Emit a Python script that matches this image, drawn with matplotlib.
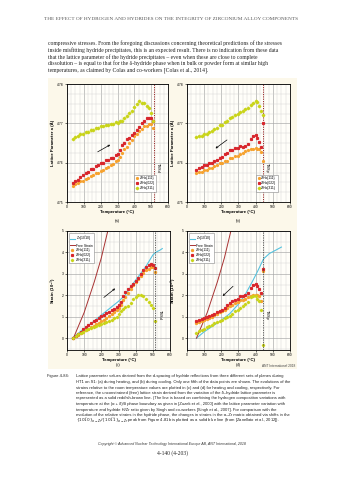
import numpy as np
import matplotlib
matplotlib.use("Agg")
import matplotlib.pyplot as plt
from matplotlib.patches import Rectangle
from matplotlib.ticker import MultipleLocator

plt.rcParams['font.family'] = ['Liberation Sans', 'DejaVu Sans']
plt.rcParams['mathtext.fontset'] = 'dejavusans'

# ---- data ----
heat_T = [35, 50, 65, 80, 95, 110, 125, 140, 155, 170, 185, 200, 215, 230, 245, 260, 275,
          290, 305, 315, 325, 340, 355, 370, 385, 400, 415, 430, 445, 460, 475, 490, 500, 510]
cool_T = [440, 430, 420, 410, 400, 385, 370, 355, 340, 325, 310, 295, 280, 265, 250, 235, 220,
          205, 190, 175, 160, 145, 130, 115, 100, 85, 70, 55]

# (a) lattice parameter during heating
a111_heat = [4.7541, 4.7546, 4.7548, 4.7553, 4.7554, 4.7559, 4.7561, 4.7566, 4.7568, 4.7573, 4.7574,
             4.7580, 4.7581, 4.7587, 4.7589, 4.7595, 4.7597, 4.7604, 4.7607, 4.7615, 4.7624, 4.7634,
             4.7640, 4.7651, 4.7658, 4.7667, 4.7672, 4.7681, 4.7685, 4.7692, 4.7694, 4.7699, 4.7698, 4.7688]
a022_heat = [4.7549, 4.7554, 4.7557, 4.7564, 4.7568, 4.7575, 4.7577, 4.7583, 4.7585, 4.7591, 4.7593,
             4.7599, 4.7600, 4.7606, 4.7607, 4.7612, 4.7613, 4.7619, 4.7621, 4.7631, 4.7644, 4.7651,
             4.7659, 4.7663, 4.7671, 4.7675, 4.7684, 4.7690, 4.7700, 4.7705, 4.7713, 4.7713, 4.7713, 4.7705]
a311_heat = [4.7660, 4.7666, 4.7667, 4.7672, 4.7673, 4.7678, 4.7679, 4.7684, 4.7684, 4.7688, 4.7688,
             4.7692, 4.7692, 4.7696, 4.7696, 4.7699, 4.7699, 4.7703, 4.7702, 4.7705, 4.7707, 4.7714,
             4.7718, 4.7727, 4.7732, 4.7742, 4.7748, 4.7756, 4.7752, 4.7751, 4.7744, 4.7739, 4.7727, 4.7705]

# (b) lattice parameter during cooling
a111_cool = [4.7603, 4.7628, 4.7634, 4.7635, 4.7638, 4.7635, 4.7635, 4.7631, 4.7630, 4.7625, 4.7623,
             4.7618, 4.7617, 4.7612, 4.7611, 4.7605, 4.7604, 4.7599, 4.7598, 4.7593, 4.7592, 4.7587,
             4.7586, 4.7581, 4.7581, 4.7577, 4.7576, 4.7573]
a022_cool = [4.7700, 4.7640, 4.7653, 4.7662, 4.7671, 4.7667, 4.7661, 4.7647, 4.7643, 4.7639, 4.7642,
             4.7637, 4.7637, 4.7633, 4.7631, 4.7624, 4.7621, 4.7614, 4.7613, 4.7607, 4.7605, 4.7599,
             4.7598, 4.7593, 4.7593, 4.7588, 4.7587, 4.7582]
a311_cool = [4.7722, 4.7731, 4.7745, 4.7753, 4.7757, 4.7751, 4.7747, 4.7740, 4.7737, 4.7731, 4.7729,
             4.7723, 4.7721, 4.7715, 4.7713, 4.7707, 4.7704, 4.7697, 4.7695, 4.7688, 4.7686, 4.7680,
             4.7678, 4.7674, 4.7673, 4.7669, 4.7668, 4.7664]

# (c) strain during heating (10^-3)
s111_heat = [0.0, 0.08, 0.17, 0.23, 0.29, 0.36, 0.44, 0.50, 0.59, 0.65, 0.71, 0.80, 0.86, 0.95, 1.03,
             1.12, 1.20, 1.30, 1.41, 1.54, 1.77, 1.93, 2.10, 2.29, 2.48, 2.63, 2.78, 2.92, 3.05, 3.16,
             3.24, 3.30, 3.32, 3.09]
s022_heat = [0.0, 0.08, 0.19, 0.29, 0.42, 0.53, 0.61, 0.69, 0.78, 0.86, 0.95, 1.03, 1.09, 1.18, 1.24,
             1.30, 1.37, 1.45, 1.54, 1.70, 1.98, 2.17, 2.29, 2.42, 2.55, 2.68, 2.82, 2.99, 3.16, 3.30,
             3.43, 3.47, 3.43, 3.28]
s311_heat = [0.0, 0.12, 0.18, 0.24, 0.30, 0.36, 0.42, 0.47, 0.52, 0.57, 0.62, 0.66, 0.70, 0.75, 0.80,
             0.86, 0.93, 1.00, 1.15, 1.28, 1.36, 1.44, 1.52, 1.66, 1.82, 1.93, 2.00, 2.02, 1.96, 1.82,
             1.70, 1.55, 1.40, 0.78]
zr_heat_T = [30, 100, 150, 200, 250, 300, 340, 380, 420, 460, 500, 520, 540, 555]
zr_heat_s = [0.0, 0.45, 0.75, 1.08, 1.40, 1.72, 2.02, 2.50, 2.92, 3.35, 3.88, 4.02, 4.10, 4.18]
free_heat_T = [37, 100, 159, 200, 246]
free_heat_s = [0.0, 1.2, 2.63, 3.75, 5.28]

# (d) strain during cooling (10^-3)
s111_cool = [3.15, 1.75, 1.95, 2.00, 2.02, 2.00, 1.95, 1.90, 1.85, 1.80, 1.78, 1.70, 1.62, 1.55, 1.48,
             1.40, 1.33, 1.28, 1.20, 1.13, 1.07, 1.00, 0.95, 0.90, 0.85, 0.80, 0.75, 0.70]
s022_cool = [3.22, 2.10, 2.30, 2.45, 2.52, 2.50, 2.35, 2.10, 2.00, 1.96, 1.95, 1.85, 1.80, 1.75, 1.65,
             1.55, 1.42, 1.32, 1.25, 1.20, 1.15, 1.10, 1.03, 0.98, 0.92, 0.88, 0.85, 0.80]
s311_cool = [-0.33, 1.30, 1.75, 1.85, 1.95, 1.95, 1.90, 1.70, 1.60, 1.50, 1.40, 1.30, 1.25, 1.15, 1.05,
             0.98, 0.92, 0.87, 0.82, 0.76, 0.70, 0.62, 0.55, 0.50, 0.45, 0.40, 0.32, 0.25]
zr_cool_T = [55, 100, 194, 250, 301, 340, 378, 410, 446, 480, 520, 550]
zr_cool_s = [0.0, 0.30, 0.80, 1.15, 1.60, 2.05, 2.60, 3.10, 3.70, 3.95, 4.12, 4.25]
free_cool_T = [55, 118, 177, 218, 264]
free_cool_s = [0.0, 1.2, 2.63, 3.75, 5.28]

tss_heat = 515
tss_cool = 440

# ---- page text ----
header = "THE EFFECT OF HYDROGEN AND HYDRIDES ON THE INTEGRITY OF ZIRCONIUM ALLOY COMPONENTS"
para = [
    "compressive stresses. From the foregoing discussions concerning theoretical predictions of the stresses",
    "inside misfitting hydride precipitates, this is an expected result. There is no indication from these data",
    "that the lattice parameter of the hydride precipitates \u2013 even when these are close to complete",
    "dissolution \u2013 is equal to that for the \u03b4-hydride phase when in bulk or powder form at similar high",
    "temperatures, as claimed by Colas and co-workers [Colas et al., 2014].",
]
caption = [
    "Lattice parameter values derived from the d-spacing of hydride reflections from three different sets of planes during",
    "HT1 on S1: (a) during heating, and (b) during cooling. Only one fifth of the data points are shown. The evolutions of the",
    "strains relative to the room temperature values are plotted in (c) and (d) for heating and cooling, respectively. For",
    "reference, the unconstrained (free) lattice strain derived from the variation of the \u03b4\u2013hydride lattice parameter is",
    "represented as a solid reddish-brown line. (The line is based on combining the hydrogen composition variations with",
    "temperature at the (\u03b1 + \u03b4)/\u03b4 phase boundary as given in [Zuzek et al., 2000] with the lattice parameter variation with",
    "temperature and hydride H/Zr ratio given by Singh and co-workers [Singh et al., 2007]. For comparison with the",
    "evolution of the relative strains in the hydride phase, the changes in strains in the \u03b1\u2013Zr matrix obtained via shifts in the",
    r"$\{10\bar{1}0\}_{\alpha-Zr}/\{10\bar{1}\bar{1}\}_{\alpha-Zr}$ peak from Figure 4-81b is plotted as a solid blue line (from [Zanellato et al., 2012]).",
]

W, H = 343, 480
fig = plt.figure(figsize=(W / 100, H / 100), dpi=100)
fig.patch.set_facecolor('white')

def fx(px):
    return px / W

def fy(py):
    return 1 - py / H

fig.text(fx(171.5), fy(19), header, ha='center', va='center', fontsize=3.75,
         family='Liberation Serif', color='#555555')
for i, line in enumerate(para):
    fig.text(fx(48), fy(43.5 + i * 6.6), line, ha='left', va='center', fontsize=4.05,
             family='Liberation Serif', color='#222222')

fig.patches.append(Rectangle((fx(48), fy(369)), (297 - 48) / W, (369 - 78) / H,
                             transform=fig.transFigure, facecolor='#fcf8ea', edgecolor='none', zorder=-5))

c111, c022, c311 = '#f6a22e', '#d8262c', '#c9d419'
c_zr, c_free = '#56c3df', '#a83232'

def style(ax, lattice):
    ax.set_facecolor('#fffef9')
    ax.set_xlim(0, 600)
    ax.xaxis.set_major_locator(MultipleLocator(100))
    ax.xaxis.set_minor_locator(MultipleLocator(25))
    if lattice:
        ax.set_ylim(4.75, 4.78)
        ax.yaxis.set_major_locator(MultipleLocator(0.01))
        ax.yaxis.set_minor_locator(MultipleLocator(0.0025))
    else:
        ax.set_ylim(-0.55, 5)
        ax.yaxis.set_major_locator(MultipleLocator(1))
        ax.yaxis.set_minor_locator(MultipleLocator(0.5))
    ax.grid(which='major', color='#a5a5a5', lw=0.45)
    ax.grid(which='minor', color='#d2d2d2', lw=0.3)
    ax.set_axisbelow(True)
    ax.tick_params(which='both', labelsize=2.4, length=1.2, width=0.4, pad=1)
    ax.tick_params(which='minor', length=0)
    for s in ax.spines.values():
        s.set_linewidth(0.6)
    ax.set_xlabel('Temperature (\u00b0C)', fontsize=3.1, fontweight='bold', labelpad=1)
    if lattice:
        ax.set_ylabel('Lattice Parameter a (\u00c5)', fontsize=3.1, fontweight='bold', labelpad=2)
    else:
        ax.set_ylabel('Strain (10$^{-3}$)', fontsize=3.1, fontweight='bold', labelpad=2)

def lattice_panel(ax, T, y111, y022, y311, tss, tss_lab, arrow):
    style(ax, True)
    ax.set_yticks([4.75, 4.76, 4.77, 4.78])
    ax.set_yticklabels(['4.75', '4.76', '4.77', '4.78'])
    kw = dict(ms=1.3, lw=0, elinewidth=0.3, capsize=0)
    ax.errorbar(T, y111, yerr=0.0003, fmt='o', color=c111, ecolor='#f8c27a', label='ZrHx{111}', **kw)
    ax.errorbar(T, y022, yerr=0.0003, fmt='s', color=c022, ecolor='#ec8c8c', label='ZrHx{022}', **kw)
    ax.errorbar(T, y311, yerr=0.0003, fmt='D', color=c311, ecolor='#dde47a', label='ZrHx{311}', **kw)
    ax.axvline(tss, color='#9a2a2a', ls=(0, (1.2, 1.2)), lw=0.7)
    ax.text(tss + 12, 4.7588, tss_lab, rotation=-90, fontsize=2.8, ha='left', va='center')
    ax.annotate('', xy=arrow[1], xytext=arrow[0],
                arrowprops=dict(arrowstyle='->', lw=0.5, color='black', mutation_scale=3))
    leg = ax.legend(loc='lower right', bbox_to_anchor=(0.9, 0.07), fontsize=2.4, frameon=True,
                    handletextpad=0.3, borderpad=0.5, labelspacing=0.3, handlelength=0.8,
                    fancybox=False, framealpha=1, edgecolor='#888888')
    leg.get_frame().set_linewidth(0.4)

def strain_panel(ax, T, y111, y022, y311, zrT, zrs, frT, frs, tss, tss_lab, arrow):
    style(ax, False)
    ax.plot(zrT, zrs, color=c_zr, lw=0.8, label=r'Zr{10$\bar{1}$0}')
    ax.plot(frT, frs, color=c_free, lw=0.7, label='Free Strain')
    ax.plot(T, y111, 'o', color=c111, ms=1.4, label='ZrHx{111}')
    ax.plot(T, y022, 's', color=c022, ms=1.3, label='ZrHx{022}')
    ax.plot(T, y311, 'D', color=c311, ms=1.2, label='ZrHx{311}')
    ax.axvline(tss, color='#333333', ls=(0, (2, 1.5)), lw=0.5)
    ax.text(tss + 12, 1.1, tss_lab, rotation=-90, fontsize=2.8, ha='left', va='center')
    ax.annotate('', xy=arrow[1], xytext=arrow[0],
                arrowprops=dict(arrowstyle='->', lw=0.5, color='black', mutation_scale=3))
    leg = ax.legend(loc='upper left', fontsize=2.4, frameon=True, handletextpad=0.3, borderpad=0.4,
                    labelspacing=0.25, handlelength=1.4, fancybox=False, framealpha=1,
                    edgecolor='#888888')
    leg.get_frame().set_linewidth(0.4)

ax_a = fig.add_axes([fx(67), fy(202), 101 / W, 118 / H])
ax_b = fig.add_axes([fx(187), fy(202), 103 / W, 118 / H])
ax_c = fig.add_axes([fx(67), fy(350), 103 / W, 119 / H])
ax_d = fig.add_axes([fx(187), fy(350), 103 / W, 119 / H])

lattice_panel(ax_a, heat_T, a111_heat, a022_heat, a311_heat, tss_heat, 'TSSd',
              ((168, 4.7624), (271, 4.7649)))
lattice_panel(ax_b, cool_T, a111_cool, a022_cool, a311_cool, tss_cool, 'TSSp',
              ((246, 4.7662), (153, 4.7632)))
strain_panel(ax_c, heat_T, s111_heat, s022_heat, s311_heat, zr_heat_T, zr_heat_s,
             free_heat_T, free_heat_s, tss_heat, 'TSSd', ((202, 1.82), (293, 2.40)))
strain_panel(ax_d, cool_T, s111_cool, s022_cool, s311_cool, zr_cool_T, zr_cool_s,
             free_cool_T, free_cool_s, tss_cool, 'TSSp', ((280, 2.51), (196, 1.88)))

for ax, lab, yy in [(ax_a, '(a)', 221), (ax_b, '(b)', 221), (ax_c, '(c)', 365), (ax_d, '(d)', 365)]:
    pos = ax.get_position()
    fig.text(pos.x0 + pos.width / 2, fy(yy), lab, ha='center', va='center', fontsize=3.0)

fig.text(fx(295), fy(366), 'ANT International 2018', ha='right', va='center', fontsize=2.3, color='#444444')

fig.text(fx(47), fy(376.5), 'Figure 4-84:', ha='left', va='center', fontsize=2.9, color='#222222')
for i, line in enumerate(caption):
    fig.text(fx(76), fy(376.5 + i * 5.5), line, ha='left', va='center', fontsize=2.95, color='#222222')

fig.text(fx(172), fy(444), 'Copyright \u00a9 Advanced Nuclear Technology International Europe AB, ANT International, 2018',
         ha='center', va='center', fontsize=2.6, style='italic', color='#333333')
fig.text(fx(172), fy(453), '4-140 (4-203)', ha='center', va='center', fontsize=4.0,
         family='Liberation Serif', color='#222222')

fig.savefig('out.png', dpi=100)
